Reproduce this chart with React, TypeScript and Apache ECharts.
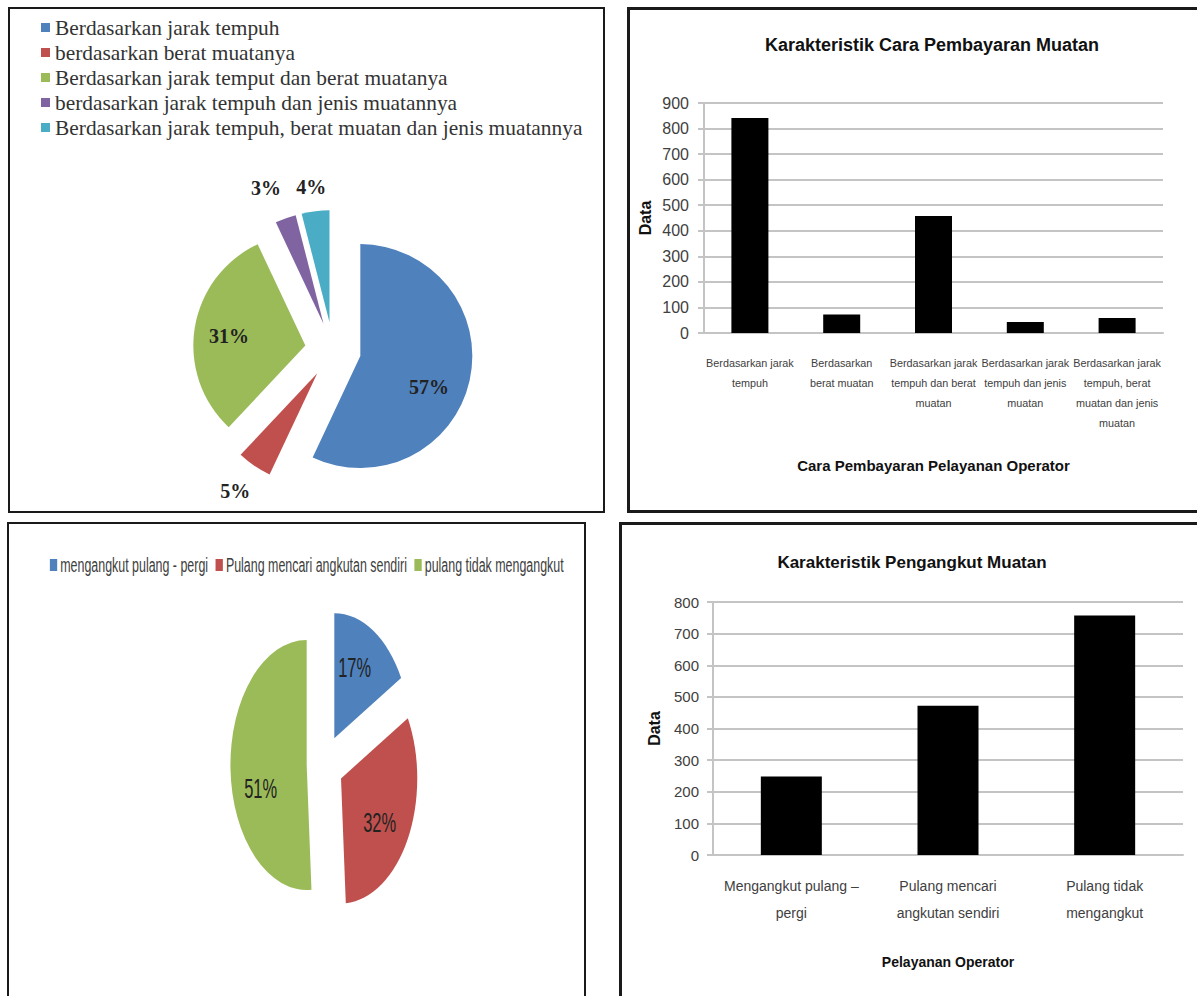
import React, { useEffect, useRef } from 'react';
import * as echarts from 'echarts';

// ---------- data ----------
const PALETTE = ['#4F81BD', '#C0504D', '#9BBB59', '#8064A2', '#4BACC6'];

const pie1Names = [
  'Berdasarkan jarak tempuh',
  'berdasarkan berat muatanya',
  'Berdasarkan jarak temput dan berat muatanya',
  'berdasarkan jarak tempuh dan jenis muatannya',
  'Berdasarkan jarak tempuh, berat muatan dan jenis muatannya',
];
const pie1Values = [57, 5, 31, 3, 4];
const pie1LabelInside = [true, false, true, false, false];

const bar1Title = 'Karakteristik Cara Pembayaran Muatan';
const bar1Categories = [
  'Berdasarkan jarak\ntempuh',
  'Berdasarkan\nberat muatan',
  'Berdasarkan jarak\ntempuh dan berat\nmuatan',
  'Berdasarkan jarak\ntempuh dan jenis\nmuatan',
  'Berdasarkan jarak\ntempuh, berat\nmuatan dan jenis\nmuatan',
];
const bar1Values = [841, 72, 458, 43, 59];
const bar1YMax = 900;
const bar1YStep = 100;
const bar1XName = 'Cara Pembayaran Pelayanan Operator';

const pie2Names = ['mengangkut pulang - pergi', 'Pulang mencari angkutan sendiri', 'pulang tidak mengangkut'];
const pie2Values = [17, 32, 51];

const bar2Title = 'Karakteristik Pengangkut Muatan';
const bar2Categories = ['Mengangkut pulang –\npergi', 'Pulang mencari\nangkutan sendiri', 'Pulang tidak\nmengangkut'];
const bar2Values = [248, 472, 757];
const bar2YMax = 800;
const bar2YStep = 100;
const bar2XName = 'Pelayanan Operator';

const yName = 'Data';

// ---------- styles ----------
const SANS = "'Liberation Sans', Arial, sans-serif";
const SERIF = "'Liberation Serif', 'Times New Roman', serif";
const GRID_GRAY = '#c4c4c4';
const BORDER = '#1a1a1a';
const PIE3_SCALE = 0.61;
// small label nudges (pixels) to follow the reference's label placement
const pie1LabelNudge = [[11, 18], [15, 5], [-18, 0], [9, -7], [19, 1]];
const pie2LabelNudge = [[0, -14], [6, 13], [-10, 22]];

function valueAxis(gridIndex: number, max: number, step: number, fontSize: number, margin: number) {
  return {
    type: 'value',
    gridIndex,
    min: 0,
    max,
    interval: step,
    name: yName,
    nameLocation: 'middle',
    nameGap: 51,
    nameTextStyle: { fontFamily: SANS, fontWeight: 'bold', fontSize: 16, color: '#111' },
    axisLine: { show: true, lineStyle: { color: GRID_GRAY, width: 2 } },
    axisTick: { show: true, length: 6, lineStyle: { color: GRID_GRAY, width: 2 } },
    axisLabel: { fontFamily: SANS, fontSize, color: '#404040', margin },
    splitLine: { show: true, lineStyle: { color: GRID_GRAY, width: 2 } },
  };
}

export default function App() {
  const mainRef = useRef<HTMLDivElement>(null);
  const pieRef = useRef<HTMLDivElement>(null);

  useEffect(() => {
    const main = echarts.init(mainRef.current!, undefined, { renderer: 'svg' });
    const pie = echarts.init(pieRef.current!, undefined, { renderer: 'svg' });

    main.setOption({
      animation: false,
      backgroundColor: 'transparent',
      title: [
        {
          text: bar1Title,
          left: 932,
          top: 45,
          padding: 0,
          textAlign: 'center',
          textVerticalAlign: 'middle',
          textStyle: { fontFamily: SANS, fontWeight: 'bold', fontSize: 18, color: '#111' },
        },
        {
          text: bar2Title,
          left: 912,
          top: 562,
          padding: 0,
          textAlign: 'center',
          textVerticalAlign: 'middle',
          textStyle: { fontFamily: SANS, fontWeight: 'bold', fontSize: 17, color: '#111' },
        },
      ],
      legend: [
        {
          orient: 'vertical',
          left: 41,
          top: 17,
          padding: 0,
          itemWidth: 9,
          itemHeight: 9,
          itemGap: 4,
          icon: 'rect',
          selectedMode: false,
          data: pie1Names,
          textStyle: { fontFamily: SERIF, fontSize: 21.4, lineHeight: 21, color: '#333' },
        },
      ],
      grid: [
        { left: 704, top: 103, width: 459, height: 230, containLabel: false, outerBoundsMode: 'none' },
        { left: 713, top: 602, width: 470, height: 253, containLabel: false, outerBoundsMode: 'none' },
      ],
      xAxis: [
        {
          type: 'category',
          gridIndex: 0,
          data: bar1Categories,
          name: bar1XName,
          nameLocation: 'middle',
          nameGap: 125,
          nameTextStyle: { fontFamily: SANS, fontWeight: 'bold', fontSize: 15, color: '#111' },
          axisLine: { show: true, lineStyle: { color: GRID_GRAY, width: 2 } },
          axisTick: { show: false },
          axisLabel: { interval: 0, fontFamily: SANS, fontSize: 10.8, lineHeight: 20, color: '#404040', margin: 20 },
        },
        {
          type: 'category',
          gridIndex: 1,
          data: bar2Categories,
          name: bar2XName,
          nameLocation: 'middle',
          nameGap: 100,
          nameTextStyle: { fontFamily: SANS, fontWeight: 'bold', fontSize: 14, color: '#111' },
          axisLine: { show: true, lineStyle: { color: GRID_GRAY, width: 2 } },
          axisTick: { show: false },
          axisLabel: { interval: 0, fontFamily: SANS, fontSize: 14, lineHeight: 27, color: '#404040', margin: 17 },
        },
      ],
      yAxis: [valueAxis(0, bar1YMax, bar1YStep, 16, 15), valueAxis(1, bar2YMax, bar2YStep, 15, 14)],
      series: [
        {
          type: 'bar',
          xAxisIndex: 0,
          yAxisIndex: 0,
          data: bar1Values,
          barWidth: 37,
          itemStyle: { color: '#000' },
          silent: true,
        },
        {
          type: 'bar',
          xAxisIndex: 1,
          yAxisIndex: 1,
          data: bar2Values,
          barWidth: 61,
          itemStyle: { color: '#000' },
          silent: true,
        },
        {
          type: 'pie',
          center: [333, 350],
          radius: 112,
          startAngle: 90,
          clockwise: true,
          avoidLabelOverlap: false,
          selectedMode: 'multiple',
          selectedOffset: 28,
          emphasis: { scale: false },
          itemStyle: { borderWidth: 0 },
          label: { show: true, formatter: '{c}%', fontFamily: SERIF, fontWeight: 'bold', fontSize: 20, color: '#222' },
          labelLayout: (p: any) => ({
            dx: pie1LabelNudge[p.dataIndex][0],
            dy: pie1LabelNudge[p.dataIndex][1],
            hideOverlap: false,
          }),
          data: pie1Names.map((name, i) => ({
            name,
            value: pie1Values[i],
            selected: true,
            itemStyle: { color: PALETTE[i] },
            label: { position: pie1LabelInside[i] ? 'inside' : 'outside' },
            labelLine: { show: false, length: 25, length2: 0 },
          })),
        },
      ],
      graphic: [
        { type: 'rect', shape: { x: 9, y: 8, width: 595, height: 504 }, style: { fill: 'none', stroke: BORDER, lineWidth: 2 } },
        { type: 'rect', shape: { x: 628.5, y: 8.5, width: 620, height: 503 }, style: { fill: 'none', stroke: BORDER, lineWidth: 3 } },
        { type: 'rect', shape: { x: 8, y: 523, width: 577, height: 520 }, style: { fill: 'none', stroke: BORDER, lineWidth: 2 } },
        { type: 'rect', shape: { x: 620.5, y: 523.5, width: 620, height: 520 }, style: { fill: 'none', stroke: BORDER, lineWidth: 3 } },
      ],
    });

    pie.setOption({
      animation: false,
      backgroundColor: 'transparent',
      legend: {
        left: 67,
        top: 31,
        padding: 0,
        itemWidth: 12,
        itemHeight: 12,
        itemGap: 12,
        icon: 'rect',
        selectedMode: false,
        data: pie2Names,
        textStyle: { fontFamily: SANS, fontSize: 20.4, color: '#404040' },
      },
      series: [
        {
          type: 'pie',
          center: [518, 240],
          radius: 125,
          startAngle: 90,
          clockwise: true,
          avoidLabelOverlap: false,
          selectedMode: 'multiple',
          selectedOffset: 30,
          emphasis: { scale: false },
          itemStyle: { borderWidth: 0 },
          label: { show: true, position: 'inside', formatter: '{c}%', fontFamily: SANS, fontSize: 27, color: '#222' },
          labelLine: { show: false },
          labelLayout: (p: any) => ({
            dx: pie2LabelNudge[p.dataIndex][0],
            dy: pie2LabelNudge[p.dataIndex][1],
            hideOverlap: false,
          }),
          data: pie2Names.map((name, i) => ({
            name,
            value: pie2Values[i],
            selected: true,
            itemStyle: { color: PALETTE[i] },
          })),
        },
      ],
    });

    return () => {
      main.dispose();
      pie.dispose();
    };
  }, []);

  return (
    <div style={{ position: 'absolute', left: 0, top: 0, width: 1197, height: 996, overflow: 'hidden', background: '#fff' }}>
      <div ref={mainRef} style={{ position: 'absolute', left: 0, top: 0, width: 1197, height: 996 }} />
      <div
        ref={pieRef}
        style={{
          position: 'absolute',
          left: 9,
          top: 524,
          width: Math.round(575 / PIE3_SCALE),
          height: 470,
          transform: `scaleX(${PIE3_SCALE})`,
          transformOrigin: '0 0',
        }}
      />
    </div>
  );
}
